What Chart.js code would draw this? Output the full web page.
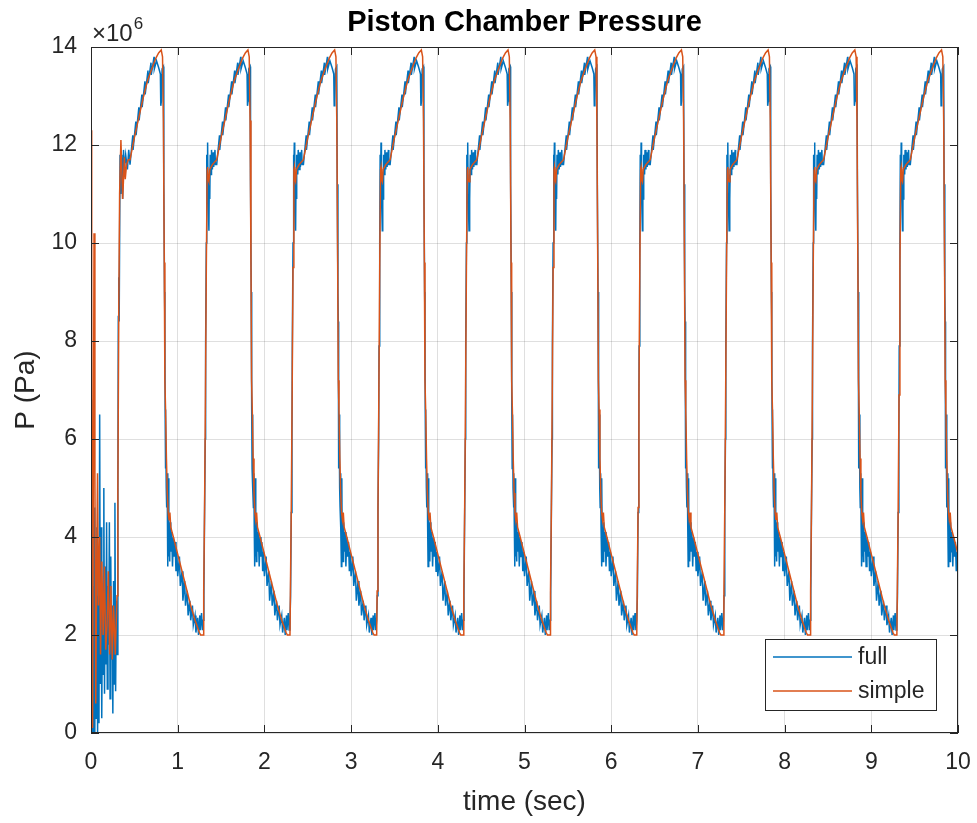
<!DOCTYPE html>
<html>
<head>
<meta charset="utf-8">
<script src="https://cdn.jsdelivr.net/npm/chart.js@4/dist/chart.umd.min.js"></script>
<style>
  html, body { margin: 0; padding: 0; background: #fff; }
  #wrap { width: 977px; height: 823px; }
</style>
</head>
<body>
<div id="wrap"><canvas id="pressureChart" width="977" height="823"></canvas></div>
<script>
// --- Data (pressure in units of 1e6 Pa) ---
const xTicks = [0, 1, 2, 3, 4, 5, 6, 7, 8, 9, 10];
const yTicks = [0, 2, 4, 6, 8, 10, 12, 14];
const seriesNames = ['full', 'simple'];

// start-up transient, t = 0 .. 0.44 s
const fullStartT = [0, 0.006, 0.01, 0.014, 0.02, 0.028, 0.036, 0.044, 0.052, 0.06, 0.068, 0.076, 0.084, 0.092, 0.1, 0.108, 0.116, 0.124, 0.132, 0.14, 0.148, 0.156, 0.164, 0.172, 0.18, 0.188, 0.196, 0.204, 0.212, 0.22, 0.228, 0.236, 0.244, 0.252, 0.26, 0.268, 0.276, 0.284, 0.292, 0.3, 0.31, 0.315, 0.32, 0.325, 0.335, 0.345, 0.355, 0.365, 0.375, 0.385, 0.4, 0.42, 0.435];
const fullStartP = [0.2, 6.8, 4.5, 0.0, 3.0, 0.0, 4.6, 0.0, 3.4, 0.3, 4.2, 0.0, 2.8, 0.2, 6.5, 1.0, 4.2, 0.3, 2.6, 1.2, 5.0, 0.8, 3.4, 1.4, 4.3, 0.9, 3.0, 1.8, 4.3, 0.7, 3.6, 1.5, 2.6, 0.4, 3.1, 1.0, 4.7, 0.85, 2.7, 1.6, 5.0, 8.5, 9.3, 8.4, 11.8, 11.0, 11.8, 10.9, 11.9, 11.5, 11.8, 11.5, 11.9];
const simpleStartT = [0, 0.006, 0.01, 0.014, 0.018, 0.026, 0.035, 0.045, 0.055, 0.065, 0.075, 0.085, 0.1, 0.11, 0.125, 0.14, 0.155, 0.17, 0.185, 0.2, 0.215, 0.23, 0.245, 0.26, 0.28, 0.3, 0.31, 0.32, 0.33, 0.345, 0.355, 0.365, 0.375, 0.385, 0.395, 0.41, 0.43];
const simpleStartP = [4.5, 12.3, 9.0, 4.0, 0.1, 4.5, 10.2, 5.3, 0.6, 3.2, 5.3, 2.6, 4.0, 1.6, 3.5, 2.0, 3.4, 1.7, 2.2, 3.3, 1.6, 3.0, 1.5, 2.6, 1.6, 2.8, 5.0, 8.5, 11.0, 12.1, 11.5, 10.9, 11.3, 11.75, 11.3, 11.6, 11.7];

// one pump cycle, phase s = 0.45 .. 1.45 s, repeated each second
const cycleStarts = [0, 1, 2, 3, 4, 5, 6, 7, 8, 9];
const fullCycleS = [0.45, 0.482, 0.485, 0.517, 0.52, 0.552, 0.555, 0.587, 0.59, 0.622, 0.625, 0.657, 0.66, 0.692, 0.695, 0.727, 0.73, 0.755, 0.78, 0.8, 0.805, 0.812, 0.82, 0.835, 0.84, 0.848, 0.852, 0.855, 0.858, 0.862, 0.868, 0.873, 0.878, 0.883, 0.888, 0.893, 0.898, 0.903, 0.908, 0.913, 0.92, 0.93, 0.94, 0.95, 0.96, 0.97, 0.98, 0.99, 1.0, 1.02, 1.03, 1.05, 1.06, 1.08, 1.09, 1.11, 1.12, 1.14, 1.15, 1.17, 1.18, 1.2, 1.21, 1.23, 1.24, 1.255, 1.26, 1.275, 1.285, 1.295, 1.302, 1.31, 1.318, 1.322, 1.33, 1.335, 1.34, 1.345, 1.35, 1.36, 1.365, 1.37, 1.375, 1.385, 1.39, 1.4, 1.41, 1.415, 1.43, 1.435];
const fullCycleP = [11.6, 12.2, 11.9, 12.48, 12.2, 12.77, 12.5, 13.03, 12.77, 13.3, 13.03, 13.52, 13.26, 13.68, 13.43, 13.8, 13.55, 13.72, 13.58, 13.45, 12.8, 12.9, 13.55, 13.6, 11.2, 9.0, 8.4, 6.6, 5.4, 6.5, 5.0, 4.6, 5.3, 4.2, 3.4, 5.2, 3.6, 4.2, 3.5, 4.3, 3.7, 4.1, 3.4, 4.0, 3.6, 3.9, 3.3, 3.7, 3.2, 3.6, 3.0, 3.3, 2.7, 3.1, 2.6, 2.9, 2.4, 2.7, 2.3, 2.6, 2.2, 2.4, 2.05, 2.35, 2.0, 2.4, 2.1, 2.45, 2.1, 2.3, 2.8, 4.5, 6.0, 7.9, 10.0, 11.8, 11.2, 12.05, 11.0, 10.25, 11.4, 10.9, 11.8, 11.4, 11.9, 11.5, 11.85, 11.55, 11.9, 11.6];
const simpleCycleS = [0.45, 0.5, 0.55, 0.6, 0.65, 0.7, 0.75, 0.78, 0.81, 0.825, 0.835, 0.845, 0.852, 0.86, 0.87, 0.88, 0.89, 0.9, 0.91, 0.92, 0.95, 1.0, 1.05, 1.1, 1.15, 1.2, 1.25, 1.265, 1.295, 1.3, 1.31, 1.32, 1.33, 1.34, 1.345, 1.35, 1.36, 1.37, 1.4];
const simpleCycleP = [11.7, 12.15, 12.55, 12.95, 13.3, 13.55, 13.78, 13.88, 13.94, 13.8, 12.5, 9.6, 7.2, 6.6, 5.6, 4.9, 4.5, 4.35, 4.5, 4.2, 4.0, 3.65, 3.3, 2.95, 2.6, 2.3, 2.05, 2.0, 2.0, 2.9, 4.6, 6.9, 9.5, 11.5, 11.55, 11.3, 11.25, 11.5, 11.6];

// --- Build point lists ---
function buildSeries(startT, startP, cycS, cycP) {
    const pts = startT.map((t, i) => ({ x: t, y: startP[i] }));
    cycleStarts.forEach(k => {
        cycS.forEach((s, i) => pts.push({ x: k + s, y: cycP[i] }));
    });
    return pts;
}

const fullData = buildSeries(fullStartT, fullStartP, fullCycleS, fullCycleP);
const simpleData = buildSeries(simpleStartT, simpleStartP, simpleCycleS, simpleCycleP);

const BLUE = '#0072BD';
const ORANGE = '#D95319';
const AXIS = '#262626';
const FONT = '"Liberation Sans", Arial, Helvetica, sans-serif';

// MATLAB-ish frame, inward ticks, labels and legend
const matlabFrame = {
    id: 'matlabFrame',
    afterDraw(chart) {
        const { ctx, chartArea: a, scales } = chart;
        const xs = scales.x, ys = scales.y;
        ctx.save();
        ctx.strokeStyle = AXIS;
        ctx.lineWidth = 1;
        ctx.strokeRect(a.left + 0.5, a.top + 0.5, a.right - a.left - 1, a.bottom - a.top - 1);

        const tl = 8;
        ctx.beginPath();
        xTicks.forEach(v => {
            const px = Math.round(xs.getPixelForValue(v)) + 0.5;
            ctx.moveTo(px, a.bottom); ctx.lineTo(px, a.bottom - tl);
            ctx.moveTo(px, a.top); ctx.lineTo(px, a.top + tl);
        });
        yTicks.forEach(v => {
            const py = Math.round(ys.getPixelForValue(v)) + 0.5;
            ctx.moveTo(a.left, py); ctx.lineTo(a.left + tl, py);
            ctx.moveTo(a.right, py); ctx.lineTo(a.right - tl, py);
        });
        ctx.stroke();

        const midX = (a.left + a.right) / 2;
        // title
        ctx.fillStyle = '#000';
        ctx.font = 'bold 29px ' + FONT;
        ctx.textAlign = 'center';
        ctx.textBaseline = 'alphabetic';
        ctx.fillText('Piston Chamber Pressure', midX, 31);

        // axis labels
        ctx.fillStyle = AXIS;
        ctx.font = '28px ' + FONT;
        ctx.fillText('time (sec)', midX, 810);
        ctx.save();
        ctx.translate(34, (a.top + a.bottom) / 2);
        ctx.rotate(-Math.PI / 2);
        ctx.fillText('P (Pa)', 0, 0);
        ctx.restore();

        // exponent
        ctx.textAlign = 'left';
        ctx.font = '24px ' + FONT;
        ctx.fillText('\u00d710', a.left + 1, 41);
        const w = ctx.measureText('\u00d710').width;
        ctx.font = '17px ' + FONT;
        ctx.fillText('6', a.left + 2 + w, 29);

        // legend
        const lx = 765, ly = 639, lw = 171, lh = 71;
        ctx.fillStyle = '#fff';
        ctx.fillRect(lx, ly, lw, lh);
        ctx.strokeStyle = AXIS;
        ctx.strokeRect(lx + 0.5, ly + 0.5, lw, lh);
        const rows = [[seriesNames[0], BLUE, 657], [seriesNames[1], ORANGE, 691]];
        ctx.font = '23px ' + FONT;
        ctx.textBaseline = 'middle';
        rows.forEach(([name, col, y]) => {
            ctx.strokeStyle = col;
            ctx.lineWidth = 1.5;
            ctx.beginPath();
            ctx.moveTo(773, y); ctx.lineTo(852, y);
            ctx.stroke();
            ctx.fillStyle = AXIS;
            ctx.fillText(name, 858, y + 1);
        });
        ctx.restore();
    }
};

new Chart(document.getElementById('pressureChart'), {
    type: 'scatter',
    data: {
        datasets: [
            {
                label: seriesNames[0],
                data: fullData,
                showLine: true,
                borderColor: BLUE,
                borderWidth: 1.5,
                pointRadius: 0,
                tension: 0,
                order: 1
            },
            {
                label: seriesNames[1],
                data: simpleData,
                showLine: true,
                borderColor: ORANGE,
                borderWidth: 1.5,
                pointRadius: 0,
                tension: 0,
                order: 0
            }
        ]
    },
    options: {
        responsive: false,
        animation: false,
        layout: { padding: { top: 47, right: 19, left: 0, bottom: 0 } },
        plugins: {
            legend: { display: false },
            tooltip: { enabled: false },
            title: { display: false }
        },
        scales: {
            x: {
                type: 'linear',
                min: 0,
                max: 10,
                afterFit(scale) {
                    scale.height = 90;
                    scale.paddingLeft = 0;
                    scale.paddingRight = 0;
                },
                afterBuildTicks(scale) { scale.ticks = xTicks.map(v => ({ value: v })); },
                grid: { color: 'rgba(38,38,38,0.15)', drawTicks: false },
                border: { display: false },
                ticks: { color: AXIS, font: { family: FONT, size: 23 }, padding: 16, maxRotation: 0 }
            },
            y: {
                type: 'linear',
                min: 0,
                max: 14,
                afterFit(scale) {
                    scale.width = 91;
                    scale.paddingTop = 0;
                    scale.paddingBottom = 0;
                },
                afterBuildTicks(scale) { scale.ticks = yTicks.map(v => ({ value: v })); },
                grid: { color: 'rgba(38,38,38,0.15)', drawTicks: false },
                border: { display: false },
                ticks: { color: AXIS, font: { family: FONT, size: 23 }, padding: 14 }
            }
        }
    },
    plugins: [matlabFrame]
});
</script>
</body>
</html>
